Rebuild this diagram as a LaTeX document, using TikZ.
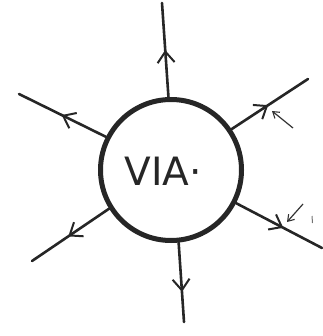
\documentclass[tikz,border=0pt]{standalone}
\usepackage{fontspec}
\setmainfont{DejaVu Sans}
\usetikzlibrary{arrows.meta,decorations.markings}
\tikzset{
  ray/.style={line width=2.6pt, line cap=round, black!85,
    decoration={markings, mark=at position #1 with {\arrow{Straight Barb[length=11pt,width=17pt,line width=2pt]}}},
    postaction={decorate}},
  pointer/.style={line width=1.2pt, black!80, -{Straight Barb[length=6pt,width=8pt,line width=1.1pt]}},
  tick/.style={line width=1pt, black!55},
  via/.style={circle, draw=black!85, line width=5pt, minimum size=141pt, inner sep=0pt}
}
\begin{document}
\begin{tikzpicture}[x=1pt,y=-1pt]
\useasboundingbox (0,0) rectangle (322,336);
\node[via] (v) at (171,170) {};
\node[font=\fontsize{39}{39}\selectfont, black!85] (t) at (163,171) {VIA·};
\coordinate (eT) at (162,3);
\coordinate (eUL) at (19,94);
\coordinate (eUR) at (308,79);
\coordinate (eLR) at (322,248);
\coordinate (eLL) at (32,261);
\coordinate (eB) at (184,322);
\draw[ray=0.5] (v.92) -- (eT);
\draw[ray=0.51] (v.153) -- (eUL);
\draw[ray=0.48] (v.34) -- (eUR);
\draw[ray=0.55] (v.-27.5) -- (eLR);
\draw[ray=0.53] (v.212.6) -- (eLL);
\draw[ray=0.62] (v.276) -- (eB);
\coordinate (p1s) at (293,128);
\coordinate (p1e) at (272,111);
\coordinate (p2s) at (303,204);
\coordinate (p2e) at (287,222);
\draw[pointer] (p1s) -- (p1e);
\draw[pointer] (p2s) -- (p2e);
\coordinate (k1a) at (312,216);
\coordinate (k1b) at (312.5,223);
\draw[tick] (k1a) -- (k1b);
\end{tikzpicture}
\end{document}
